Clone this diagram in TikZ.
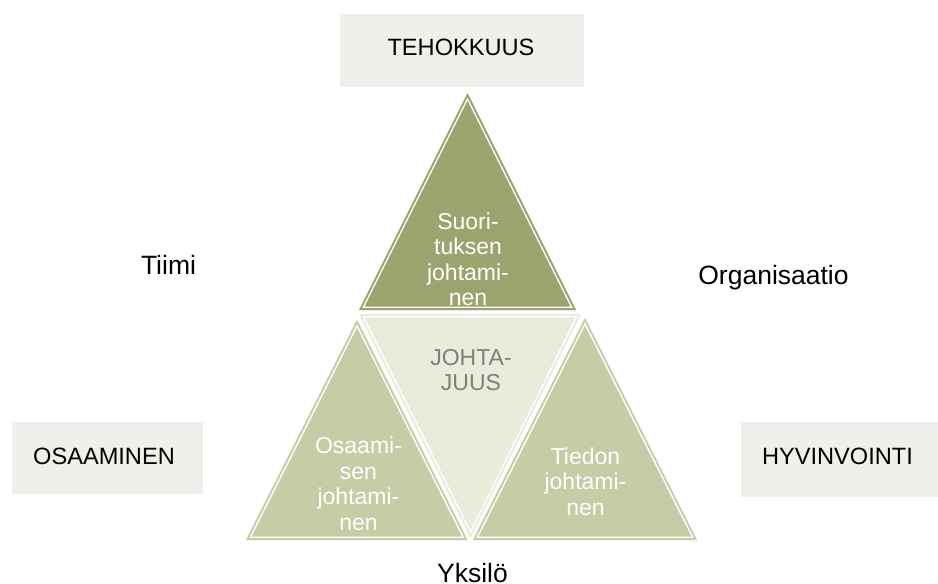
\documentclass[tikz,border=0pt]{standalone}
\usepackage{fontspec}
\setmainfont{Liberation Sans}

\definecolor{boxgrey}{HTML}{EFEFEB}
\definecolor{olivedark}{HTML}{9BA46F}
\definecolor{olivelight}{HTML}{C4CDA6}
\definecolor{olivepale}{HTML}{E8ECDA}
\definecolor{midgrey}{HTML}{7F7F7F}

% A filled triangle with a thin white line set just inside its edge.
% #1 fill colour, #2 #3 #4 corners
\newcommand\leveltri[4]{%
  \begin{scope}
    \clip #2 -- #3 -- #4 -- cycle;
    \fill[#1] #2 -- #3 -- #4 -- cycle;
    \draw[white, line width=6.6pt] #2 -- #3 -- #4 -- cycle;
    \draw[#1, line width=3.6pt] #2 -- #3 -- #4 -- cycle;
  \end{scope}}

\tikzset{
  greybox/.style={fill=boxgrey, draw=none, inner sep=0pt},
  boxlabel/.style={inner sep=0pt, anchor=base, text=black,
    font=\fontsize{23.6}{28}\selectfont},
  sidelabel/.style={inner sep=0pt, anchor=base, text=black,
    font=\fontsize{26.5}{30}\selectfont},
  tritext/.style={inner sep=0pt, anchor=north, align=center, text=white,
    font=\fontsize{23}{25.5}\selectfont},
}

\begin{document}
\begin{tikzpicture}[x=1pt, y=-1pt]
  \useasboundingbox (0,0) rectangle (938,584);

  % outer theme boxes
  \node[greybox, minimum width=244pt, minimum height=73pt] (tehbox) at (462,50.5) {};
  \node[greybox, minimum width=191pt, minimum height=72pt] (osabox) at (107.5,458) {};
  \node[greybox, minimum width=197pt, minimum height=75pt] (hyvbox) at (839.5,459.5) {};
  \node[boxlabel] (teh) at (461,55) {TEHOKKUUS};
  \node[boxlabel] (osa) at (104,464) {OSAAMINEN};
  \node[boxlabel] (hyv) at (837.5,464) {HYVINVOINTI};

  % the four triangles
  \leveltri{olivedark}{(467.5,93)}{(359,310)}{(576,310)}
  \leveltri{olivepale}{(359,314)}{(581,314)}{(470.5,538)}
  \leveltri{olivelight}{(357,320)}{(246,540)}{(467.5,540)}
  \leveltri{olivelight}{(585,318)}{(473,540)}{(697,540)}

  % texts inside the triangles
  \node[tritext] (suo) at (468,212.5) {Suori-\\tuksen\\johtami-\\nen};
  \node[tritext, text=midgrey] (joh) at (471,349) {JOHTA-\\JUUS};
  \node[tritext] (osj) at (358.5,437) {Osaami-\\sen\\johtami-\\nen};
  \node[tritext] (tie) at (585.5,447.5) {Tiedon\\johtami-\\nen};

  % level labels
  \node[sidelabel] (tiimi) at (168.5,274) {Tiimi};
  \node[sidelabel] (org) at (773.5,284) {Organisaatio};
  \node[sidelabel] (yks) at (472.5,582) {Yksilö};
\end{tikzpicture}
\end{document}
